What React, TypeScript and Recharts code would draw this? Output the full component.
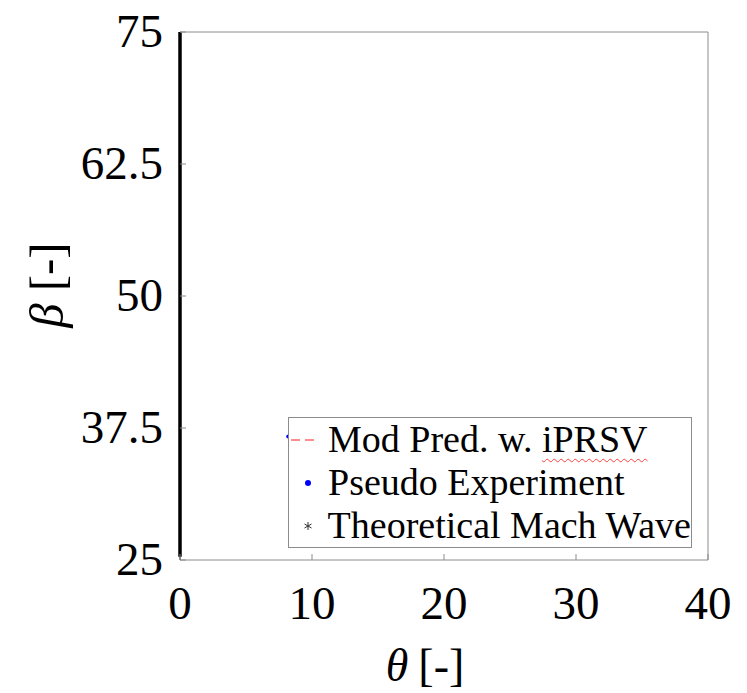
import React from 'react';
import { ComposedChart, Line, Scatter, XAxis, YAxis, Legend, Label } from 'recharts';

// ---- data ----
const xTicks = [0, 10, 20, 30, 40];
const yTicks = [25, 37.5, 50, 62.5, 75];
const legendNames = ['Mod Pred. w. iPRSV', 'Pseudo Experiment', 'Theoretical Mach Wave'];
// thick black trace along theta = 0
const wallTheta = [0, 0];
const wallBeta = [25.3, 75];
// pseudo-experiment points (mostly hidden behind the legend)
const expTheta = [8.2, 11.7, 19.0];
const expBeta = [36.7, 38.3, 38.3];

const wallData = wallTheta.map((t, i) => ({ theta: t, beta: wallBeta[i] }));
const expData = expTheta.map((t, i) => ({ theta: t, beta: expBeta[i] }));

const FONT = '"Liberation Serif", "Times New Roman", serif';
const FRAME = '#8c8c8c';
const txt = { fontFamily: FONT };

const BottomTick = (props: any) => {
  const { x, y, payload } = props;
  return (
    <g>
      <line x1={x} y1={y} x2={x} y2={y - 6} stroke={FRAME} />
      <text x={x} y={y + 59} textAnchor="middle" style={{ ...txt, fontSize: 47 }} fill="#000">
        {payload.value}
      </text>
    </g>
  );
};
const TopTick = (props: any) => {
  const { x, y } = props;
  return <line x1={x} y1={y} x2={x} y2={y + 6} stroke={FRAME} />;
};
const LeftTick = (props: any) => {
  const { x, y, payload } = props;
  return (
    <g>
      <line x1={x} y1={y} x2={x + 6} y2={y} stroke={FRAME} />
      <text x={x - 17} y={y + 15} textAnchor="end" style={{ ...txt, fontSize: 47 }} fill="#000">
        {String(payload.value)}
      </text>
    </g>
  );
};
const RightTick = (props: any) => {
  const { x, y } = props;
  return <line x1={x} y1={y} x2={x - 6} y2={y} stroke={FRAME} />;
};

const renderLegend = () => (
  <div
    style={{
      width: 402,
      height: 129,
      border: `1px solid ${FRAME}`,
      background: '#fff',
      fontFamily: FONT,
      fontSize: 38,
      lineHeight: '43px',
      color: '#000',
      boxSizing: 'content-box',
      whiteSpace: 'nowrap',
    }}
  >
    <div style={{ display: 'flex', alignItems: 'center', height: 43 }}>
      <svg width={38} height={10} style={{ marginRight: 1 }}>
        <line x1={2} y1={5} x2={30} y2={5} stroke="#ff6b6b" strokeWidth={1.5} strokeDasharray="9 5" />
      </svg>
      <span>
        {'Mod Pred. w. '}
        <span style={{ textDecoration: 'underline wavy #ff4040', textDecorationThickness: '1px', textUnderlineOffset: '6px' }}>
          iPRSV
        </span>
      </span>
    </div>
    <div style={{ display: 'flex', alignItems: 'center', height: 43 }}>
      <svg width={38} height={10} style={{ marginRight: 1 }}>
        <circle cx={19} cy={5} r={3} fill="#0000ff" />
      </svg>
      <span>{legendNames[1]}</span>
    </div>
    <div style={{ display: 'flex', alignItems: 'center', height: 43 }}>
      <svg width={38} height={12} style={{ marginRight: 1 }}>
        <g stroke="#333" strokeWidth={1}>
          <line x1={19} y1={2} x2={19} y2={10} />
          <line x1={15.5} y1={4} x2={22.5} y2={8} />
          <line x1={15.5} y1={8} x2={22.5} y2={4} />
        </g>
      </svg>
      <span>{legendNames[2]}</span>
    </div>
  </div>
);

export default function App() {
  return (
    <div style={{ position: 'absolute', left: 0, top: 0, width: 747, height: 693, background: '#fff' }}>
      <ComposedChart width={747} height={693} margin={{ top: 0, right: 0, bottom: 0, left: 0 }}>
        <XAxis
          xAxisId="b"
          type="number"
          dataKey="theta"
          domain={[0, 40]}
          ticks={xTicks}
          interval={0}
          orientation="bottom"
          height={133}
          tickSize={0}
          tickMargin={0}
          tickLine={false}
          axisLine={{ stroke: FRAME }}
          tick={<BottomTick />}
        >
          <Label
            position="insideTop"
            offset={0}
            content={() => (
              <text x={425} y={681} textAnchor="middle" style={{ ...txt, fontSize: 46 }} fill="#000">
                <tspan fontStyle="italic">θ</tspan>
                <tspan dx={10}>[-]</tspan>
              </text>
            )}
          />
        </XAxis>
        <XAxis
          xAxisId="t"
          type="number"
          dataKey="theta"
          domain={[0, 40]}
          ticks={xTicks}
          interval={0}
          orientation="top"
          height={32}
          tickSize={0}
          tickMargin={0}
          tickLine={false}
          axisLine={{ stroke: FRAME }}
          tick={<TopTick />}
        />
        <YAxis
          yAxisId="l"
          type="number"
          dataKey="beta"
          domain={[25, 75]}
          ticks={yTicks}
          interval={0}
          orientation="left"
          width={180}
          tickSize={0}
          tickMargin={0}
          tickLine={false}
          axisLine={{ stroke: '#000', strokeWidth: 1 }}
          tick={<LeftTick />}
        >
          <Label
            content={() => (
              <text
                x={63}
                y={285}
                transform="rotate(-90 63 285)"
                textAnchor="middle"
                style={{ ...txt, fontSize: 49 }}
                fill="#000"
              >
                <tspan fontStyle="italic">β</tspan>
                <tspan dx={12}>[-]</tspan>
              </text>
            )}
          />
        </YAxis>
        <YAxis
          yAxisId="r"
          type="number"
          dataKey="beta"
          domain={[25, 75]}
          ticks={yTicks}
          interval={0}
          orientation="right"
          width={39}
          tickSize={0}
          tickMargin={0}
          tickLine={false}
          axisLine={{ stroke: FRAME }}
          tick={<RightTick />}
        />
        <Scatter
          name={legendNames[1]}
          data={expData}
          xAxisId="b"
          yAxisId="l"
          dataKey="beta"
          fill="#0000ff"
          shape={(p: any) => <circle cx={p.cx} cy={p.cy} r={2} fill="#0000ff" />}
          isAnimationActive={false}
        />
        <Line
          name={legendNames[2]}
          data={wallData}
          xAxisId="b"
          yAxisId="l"
          dataKey="beta"
          type="linear"
          stroke="#000"
          strokeWidth={3.5}
          dot={false}
          isAnimationActive={false}
        />
        <Legend
          layout="vertical"
          align="center"
          verticalAlign="middle"
          content={renderLegend}
          wrapperStyle={{ position: 'absolute', left: 288, top: 417, width: 404, height: 131 }}
        />
      </ComposedChart>
    </div>
  );
}
